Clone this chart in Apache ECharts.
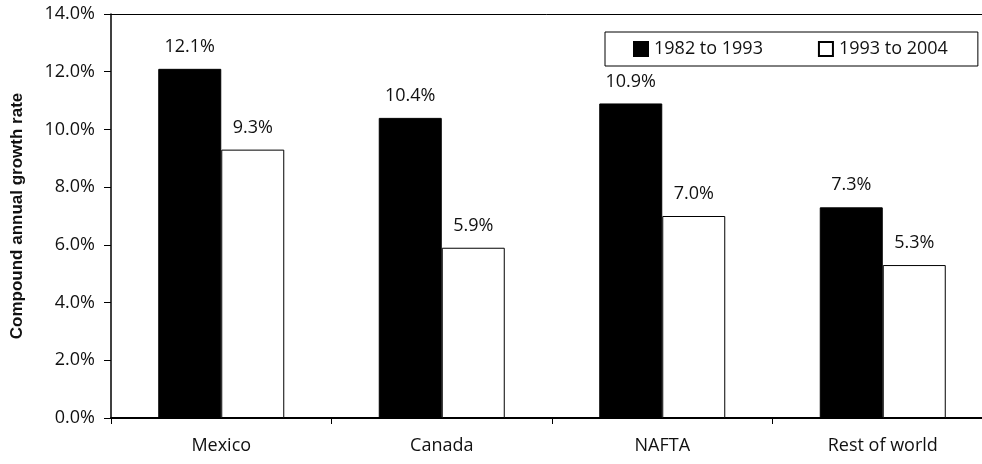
<!DOCTYPE html>
<html>
<head>
<meta charset="utf-8">
<script src="https://cdn.jsdelivr.net/npm/echarts@6/dist/echarts.min.js"></script>
<style>
  html, body { margin: 0; padding: 0; background: #fff; }
  #chart { width: 982px; height: 464px; }
</style>
</head>
<body>
<div id="chart"></div>
<script>
// Compound annual growth rate by region, two periods
const regions = ['Mexico', 'Canada', 'NAFTA', 'Rest of world'];
const period1 = [12.1, 10.4, 10.9, 7.3];   // 1982 to 1993
const period2 = [9.3, 5.9, 7.0, 5.3];      // 1993 to 2004
const periodNames = ['1982 to 1993', '1993 to 2004'];
const yTicks = [0, 2, 4, 6, 8, 10, 12, 14];

const font = '"Open Sans", "Noto Sans", sans-serif';
const fs = 18;
const pct = v => v.toFixed(1) + '%';

const chart = echarts.init(document.getElementById('chart'));
chart.setOption({
  animation: false,
  backgroundColor: '#fff',
  textStyle: { fontFamily: font, color: '#111' },
  grid: { left: 111, top: 14, width: 882, height: 404, containLabel: false, outerBoundsMode: 'none' },
  legend: {
    left: 605,
    top: 32,
    orient: 'horizontal',
    data: periodNames.map(n => ({ name: n, icon: 'rect' })),
    itemWidth: 14,
    itemHeight: 14,
    itemGap: 55,
    padding: [8, 30, 8, 28],
    borderColor: '#000',
    borderWidth: 1,
    textStyle: { fontFamily: font, fontSize: fs, color: '#111', padding: [0, 0, 0, 1] }
  },
  xAxis: [{
    type: 'category',
    data: regions,
    axisLine: { lineStyle: { color: '#000', width: 2 } },
    axisTick: { show: true, length: 6, lineStyle: { color: '#000', width: 1 } },
    axisLabel: { fontFamily: font, fontSize: fs, color: '#111', margin: 19 },
    splitLine: { show: false }
  }, {
    type: 'category',
    data: regions,
    position: 'top',
    axisLine: { show: true, lineStyle: { color: '#000', width: 1 } },
    axisTick: { show: false },
    axisLabel: { show: false }
  }],
  yAxis: {
    type: 'value',
    min: yTicks[0],
    max: yTicks[yTicks.length - 1],
    interval: 2,
    name: 'Compound annual growth rate',
    nameLocation: 'middle',
    nameGap: 85,
    nameTextStyle: {
      fontFamily: '"Liberation Sans Narrow", "Arial Narrow", sans-serif',
      fontWeight: 'bold',
      fontSize: 17,
      color: '#111'
    },
    axisLine: { show: true, lineStyle: { color: '#000', width: 1.5 } },
    axisTick: { show: true, length: 7, lineStyle: { color: '#000', width: 1 } },
    axisLabel: { formatter: v => pct(v), fontFamily: font, fontSize: fs, color: '#111', margin: 16 },
    splitLine: { show: false }
  },
  series: [{
    name: periodNames[0],
    type: 'bar',
    data: period1,
    barWidth: 63,
    barGap: '0%',
    itemStyle: { color: '#000', borderColor: '#000', borderWidth: 1 },
    label: { show: true, position: 'top', distance: 13, formatter: p => pct(p.value), fontFamily: font, fontSize: fs, color: '#111' }
  }, {
    name: periodNames[1],
    type: 'bar',
    data: period2,
    barWidth: 63,
    barGap: '0%',
    itemStyle: { color: '#fff', borderColor: '#000', borderWidth: 1 },
    label: { show: true, position: 'top', distance: 13, formatter: p => pct(p.value), fontFamily: font, fontSize: fs, color: '#111' }
  }]
});
</script>
</body>
</html>
